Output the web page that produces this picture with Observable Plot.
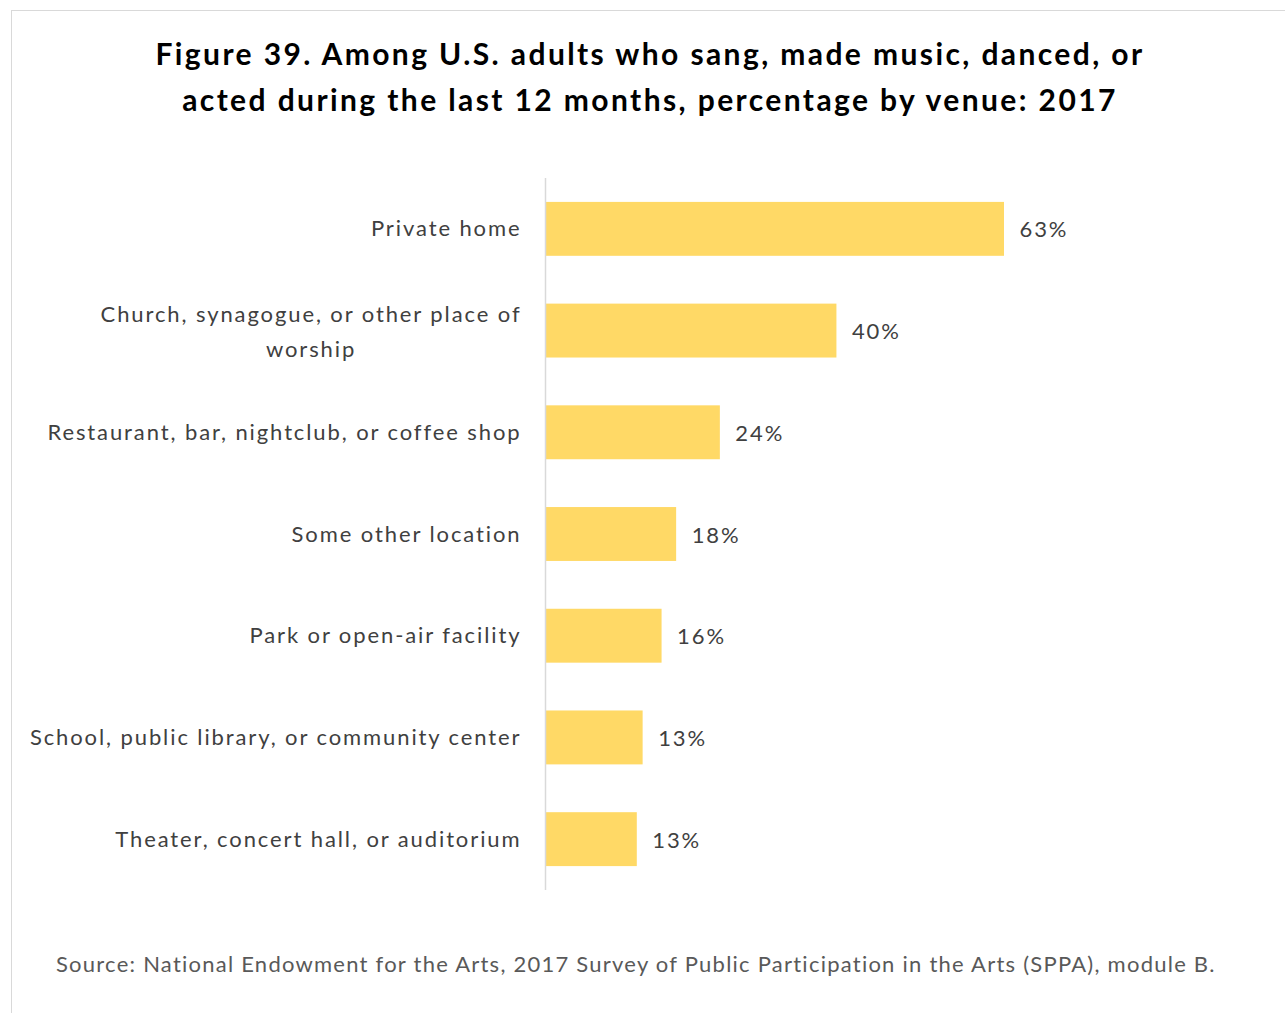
<!DOCTYPE html>
<html>
<head>
<meta charset="utf-8">
<script src="https://cdn.jsdelivr.net/npm/d3@7"></script>
<script src="https://cdn.jsdelivr.net/npm/@observablehq/plot@0.6"></script>
<style>
  html, body { margin: 0; padding: 0; background: #fff; }
  body { width: 1285px; height: 1013px; position: relative; overflow: hidden; font-family: Lato, "Open Sans", sans-serif; }
  #frame { position: absolute; left: 11px; top: 10px; width: 1290px; height: 1020px; border: 1.5px solid #d9d9d9; box-sizing: border-box; }
  #title { position: absolute; left: 0; top: 30px; width: 1300px; text-align: center; font-weight: bold; font-size: 30px; line-height: 46px; letter-spacing: 2.4px; color: #000; }
  #chart { position: absolute; left: 0; top: 0; }
  #source { position: absolute; left: 56px; top: 950px; font-size: 22px; letter-spacing: 1.24px; color: #595959; white-space: nowrap; }
  .ylabels text, .vlabels text { letter-spacing: 1.9px; }
</style>
</head>
<body>
<div id="frame"></div>
<div id="chart"></div>
<div id="title">Figure 39. Among U.S. adults who sang, made music, danced, or<br>acted during the last 12 months, percentage by venue: 2017</div>
<div id="source">Source: National Endowment for the Arts, 2017 Survey of Public Participation in the Arts (SPPA), module B.</div>
<script>
const categories = [
  "Private home",
  "Church, synagogue, or other place of worship",
  "Restaurant, bar, nightclub, or coffee shop",
  "Some other location",
  "Park or open-air facility",
  "School, public library, or community center",
  "Theater, concert hall, or auditorium"
];
const values = [63, 40, 24, 18, 16, 13.4, 12.6];
const tickLabels = [
  "Private home",
  "Church, synagogue, or other place of\nworship",
  "Restaurant, bar, nightclub, or coffee shop",
  "Some other location",
  "Park or open-air facility",
  "School, public library, or community center",
  "Theater, concert hall, or auditorium"
];

const data = categories.map((c, i) => ({venue: c, pct: values[i], label: tickLabels[i]}));
const single = data.filter(d => !d.label.includes("\n"));
const multi = data.filter(d => d.label.includes("\n"));

const labelStyle = {y: "venue", text: "label", frameAnchor: "left", textAnchor: "end", dx: -24, fontSize: 22, fill: "#404040", className: "ylabels"};

const chart = Plot.plot({
  width: 1285,
  height: 1013,
  marginLeft: 545,
  marginRight: 281,
  marginTop: 178,
  marginBottom: 123,
  style: {fontFamily: "Lato, 'Open Sans', sans-serif", background: "transparent"},
  x: {domain: [0, 63], axis: null},
  y: {domain: categories, paddingInner: 0.47, paddingOuter: 0.235, round: false, axis: null},
  marks: [
    Plot.barX(data, {x: "pct", y: "venue", fill: "#FFD966"}),
    Plot.ruleX([0], {stroke: "#d9d9d9", strokeWidth: 1.5}),
    Plot.text(single, {...labelStyle, dy: 0}),
    Plot.text(multi, {...labelStyle, lineHeight: 1.58, dy: -3}),
    Plot.text(data, {x: "pct", y: "venue", text: d => Math.round(d.pct) + "%", textAnchor: "start", dx: 15, dy: 1, fontSize: 22, fill: "#404040", className: "vlabels"})
  ]
});
document.getElementById("chart").appendChild(chart);

// center the lines of wrapped labels within their right-aligned block (as in the original)
chart.querySelectorAll(".ylabels text").forEach(t => {
  const spans = t.querySelectorAll("tspan");
  if (spans.length < 2) return;
  const widths = Array.from(spans, s => s.getComputedTextLength());
  const W = Math.max(...widths);
  spans.forEach((s, i) => s.setAttribute("x", -(W - widths[i]) / 2));
});
</script>
</body>
</html>
